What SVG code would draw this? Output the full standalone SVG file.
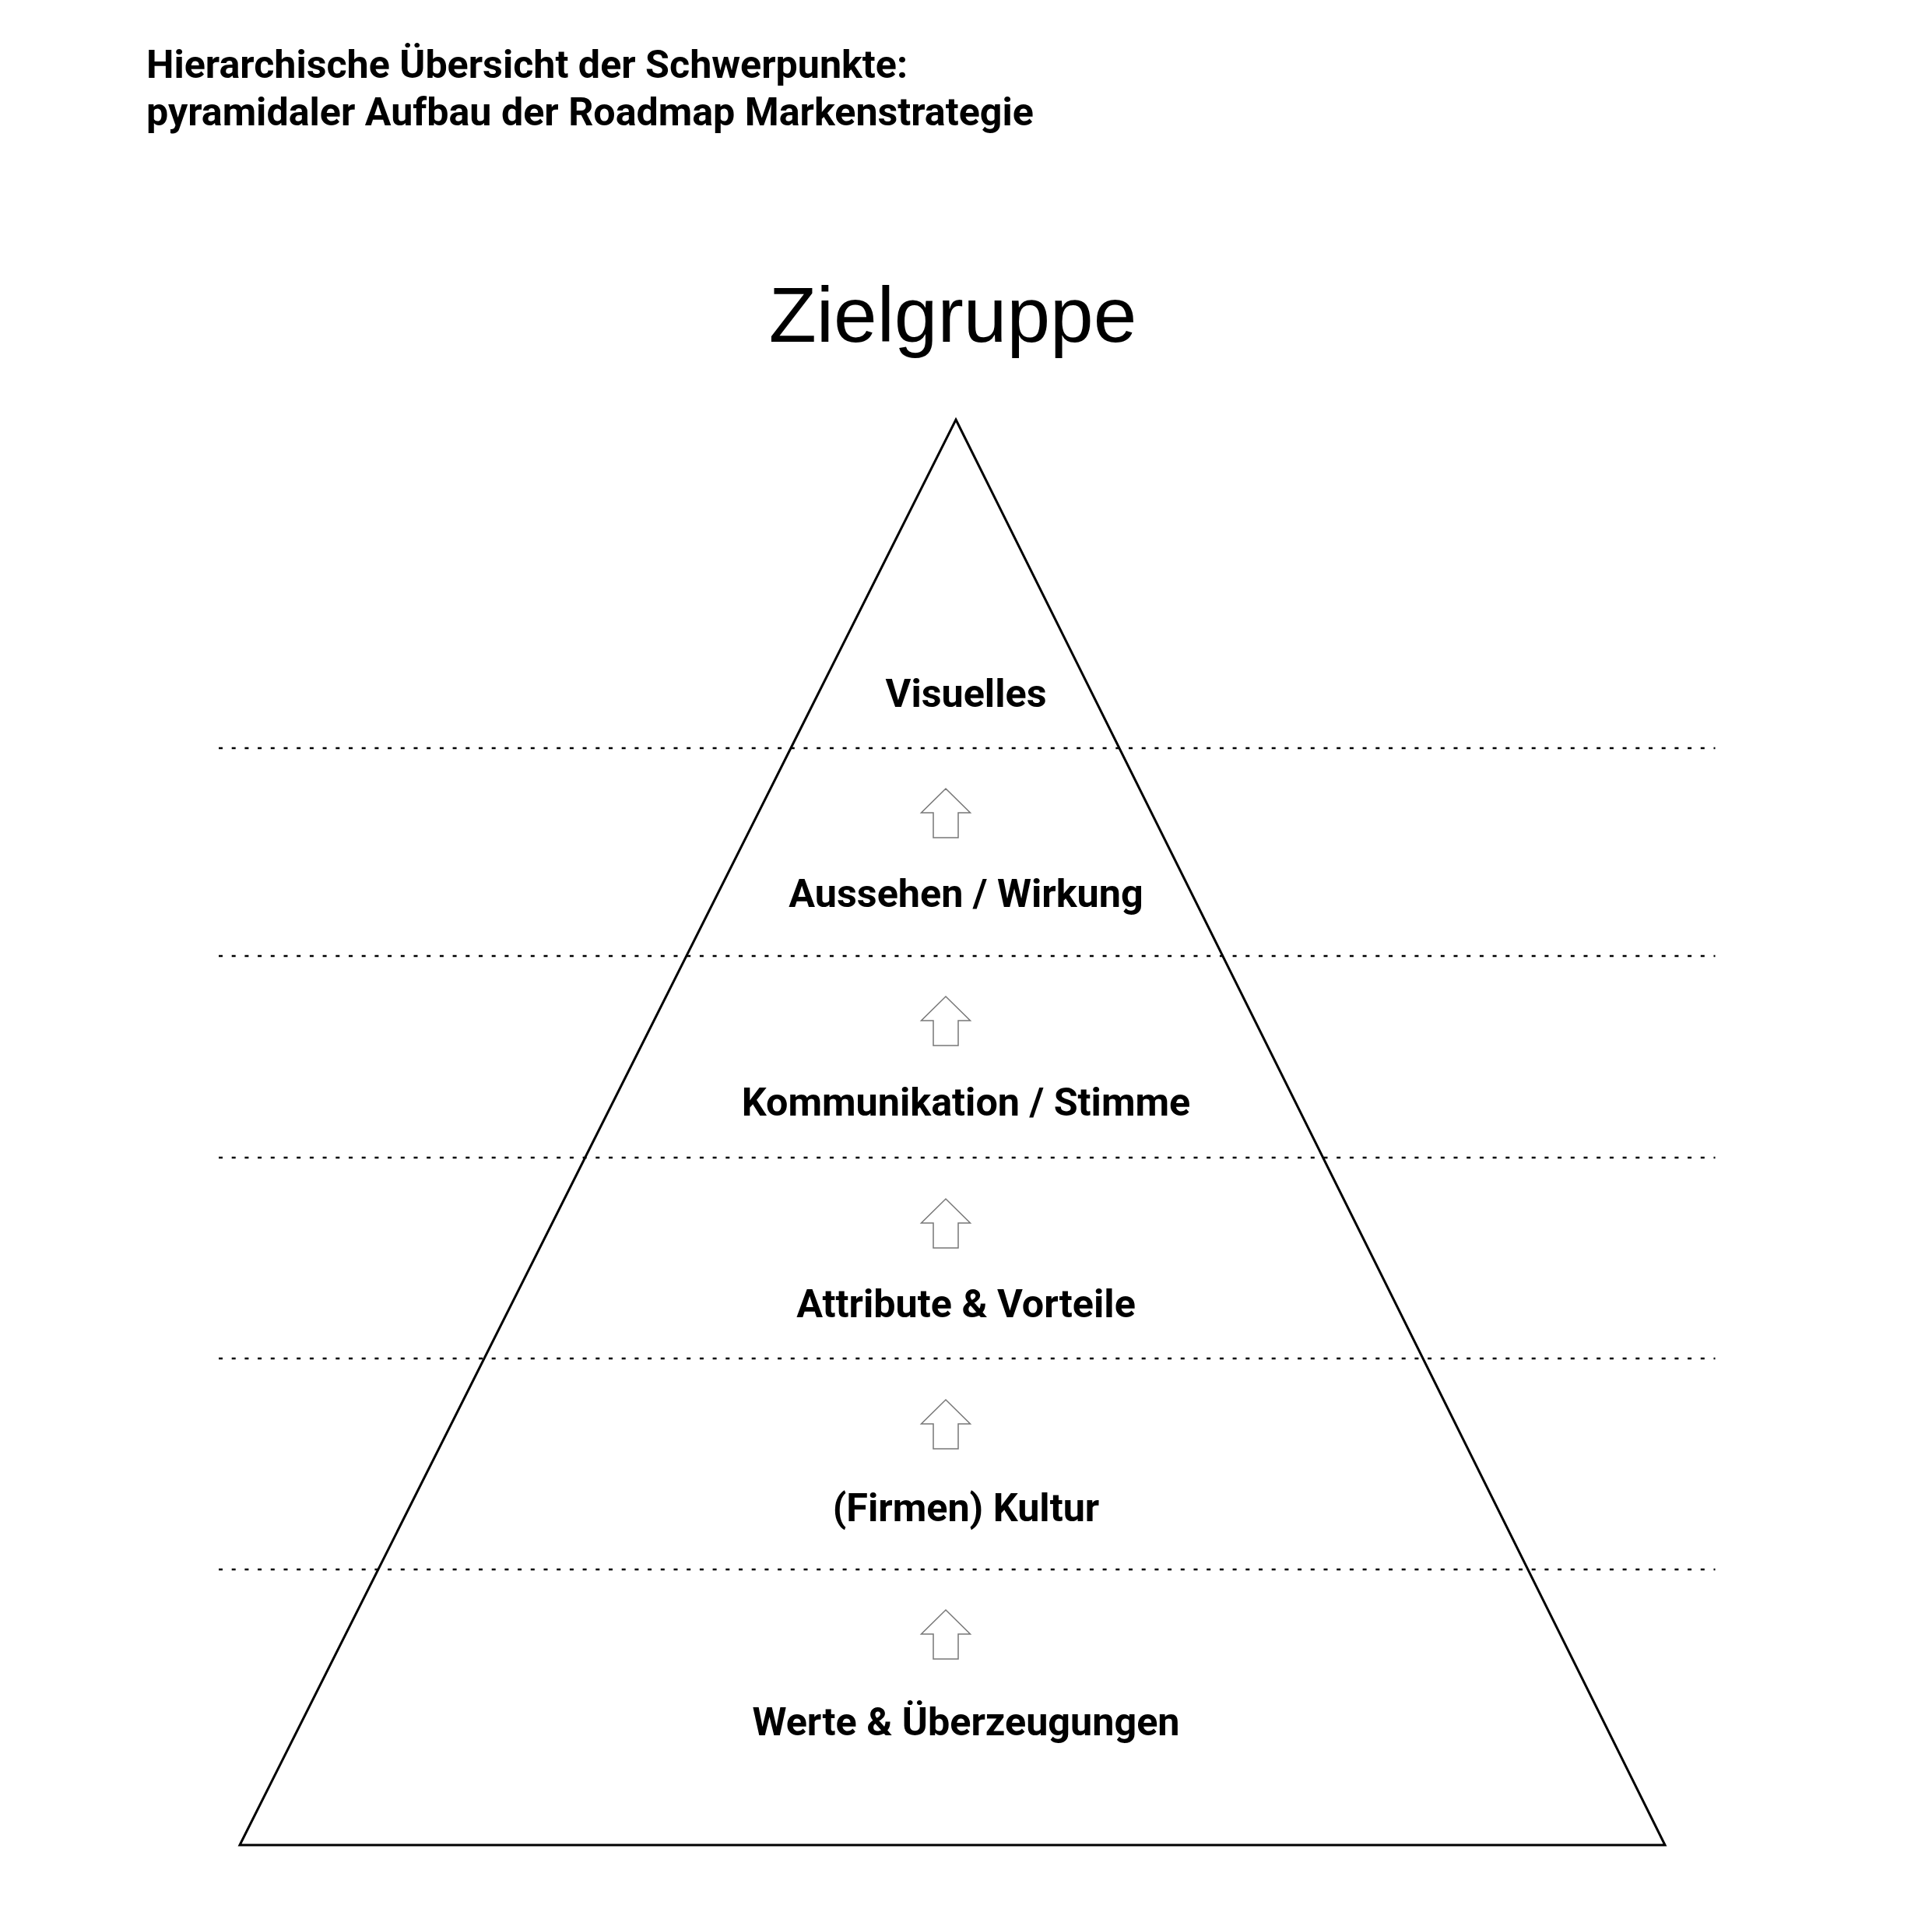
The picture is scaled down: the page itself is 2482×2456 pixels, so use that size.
<svg xmlns="http://www.w3.org/2000/svg" width="2482" height="2456" viewBox="0 0 2482 2456">
<style>
.title{font-family:Roboto,"Liberation Sans",sans-serif;font-weight:bold;font-size:50.2px;fill:#000}
.head{font-family:"Liberation Sans",Arial,sans-serif;font-size:100px;fill:#000}
.lbl{font-family:Roboto,"Liberation Sans",sans-serif;font-weight:bold;font-size:50.3px;fill:#000;text-anchor:middle}
.dash{stroke:#000;stroke-width:2.5;stroke-dasharray:5 11.7;fill:none}
.arrow{fill:#fff;stroke:#777;stroke-width:1.5}
</style>
<defs>
<path id="up" class="arrow" d="M0,0 L31.5,31 L16,31 L16,63 L-16,63 L-16,31 L-31.5,31 Z"/>
</defs>
<rect width="2482" height="2456" fill="#fff"/>
<g id="title">
<text class="title" x="188" y="100">Hierarchische Übersicht der Schwerpunkte:</text>
<text class="title" x="188" y="161">pyramidaler Aufbau der Roadmap Markenstrategie</text>
</g>
<g id="zielgruppe">
<text class="head" x="1224" y="439" text-anchor="middle">Zielgruppe</text>
</g>
<g id="pyramid">
<polygon points="1228,539 2139,2370 308,2370" fill="none" stroke="#000" stroke-width="3" stroke-linejoin="miter"/>
</g>
<g id="dividers">
<line class="dash" x1="281" y1="961" x2="2203.5" y2="961"/>
<line class="dash" x1="281" y1="1228" x2="2203.5" y2="1228"/>
<line class="dash" x1="281" y1="1487" x2="2203.5" y2="1487"/>
<line class="dash" x1="281" y1="1745" x2="2203.5" y2="1745"/>
<line class="dash" x1="281" y1="2016" x2="2203.5" y2="2016"/>
</g>
<g id="connectors">
<use href="#up" x="1215" y="1013"/>
<use href="#up" x="1215" y="1280"/>
<use href="#up" x="1215" y="1540"/>
<use href="#up" x="1215" y="1798"/>
<use href="#up" x="1215" y="2068"/>
</g>
<g id="level-visuelles"><text class="lbl" x="1241" y="908">Visuelles</text></g>
<g id="level-aussehen"><text class="lbl" x="1241" y="1165">Aussehen / Wirkung</text></g>
<g id="level-kommunikation"><text class="lbl" x="1241" y="1433">Kommunikation / Stimme</text></g>
<g id="level-attribute"><text class="lbl" x="1241" y="1692">Attribute &amp; Vorteile</text></g>
<g id="level-kultur"><text class="lbl" x="1241" y="1954">(Firmen) Kultur</text></g>
<g id="level-werte"><text class="lbl" x="1241" y="2229">Werte &amp; Überzeugungen</text></g>
</svg>
